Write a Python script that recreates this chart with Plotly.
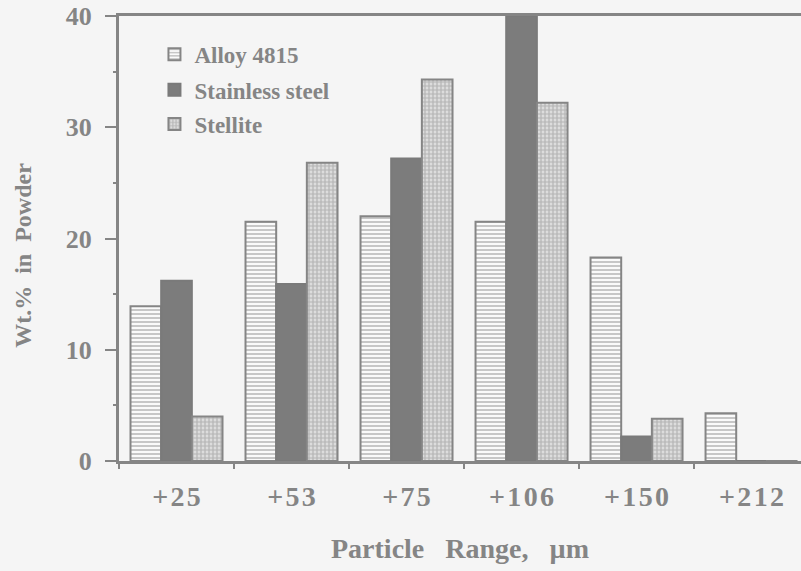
import plotly.graph_objects as go

# Particle size classes (lower sieve bound, µm)
categories = ["+25", "+53", "+75", "+106", "+150", "+212"]

# Weight percent retained in each size class
alloy_4815 = [13.9, 21.5, 22.0, 21.5, 18.3, 4.3]
stainless_steel = [16.2, 15.9, 27.2, 40.0, 2.2, 0.0]
stellite = [4.0, 26.8, 34.3, 32.2, 3.8, 0.0]

y_ticks = [0, 10, 20, 30, 40]

BG = "#f5f5f5"
INK = "#858585"
LINE = "#858585"
SERIF = "Liberation Serif"

# slightly letter-spaced tick text
HAIR = "\u200a"
tick_text = [HAIR.join(c) for c in categories]

fig = go.Figure()

fig.add_trace(go.Bar(
    name="Alloy 4815", x=categories, y=alloy_4815, legend="legend",
    marker=dict(color=BG, line=dict(color=LINE, width=2),
                pattern=dict(shape="-", fgcolor="#8a8a8a", bgcolor="#fafafa",
                             size=4, solidity=0.45)),
))
fig.add_trace(go.Bar(
    name="Stainless steel", x=categories, y=stainless_steel, legend="legend2",
    marker=dict(color="#7c7c7c", line=dict(color="#7a7a7a", width=2)),
))
fig.add_trace(go.Bar(
    name="Stellite", x=categories, y=stellite, legend="legend3",
    marker=dict(color=BG, line=dict(color=LINE, width=2),
                pattern=dict(shape=".", fgcolor="#8f8f8f", bgcolor="#e8e8e8",
                             size=4, solidity=0.7)),
))

legend_common = dict(
    x=0.052, xanchor="left", yanchor="middle",
    bgcolor="rgba(0,0,0,0)", borderwidth=0,
    font=dict(family=SERIF, size=23, color=INK, weight="bold"),
)

fig.update_layout(
    width=801, height=571,
    margin=dict(l=119, r=0, t=16, b=110),
    paper_bgcolor=BG, plot_bgcolor=BG,
    barmode="group", bargap=0.2, bargroupgap=0,
    showlegend=True,
    legend=dict(y=0.914, **legend_common),
    legend2=dict(y=0.834, **legend_common),
    legend3=dict(y=0.757, **legend_common),
    xaxis=dict(
        type="category", range=[-0.5, 5.43],
        tickmode="array", tickvals=categories, ticktext=tick_text,
        tickson="boundaries", ticks="outside", ticklen=5, tickwidth=2,
        tickcolor=LINE, ticklabelstandoff=8,
        showline=True, linecolor=LINE, linewidth=3, mirror=True,
        showgrid=False, zeroline=False,
        tickfont=dict(family=SERIF, size=28, color=INK, weight="bold"),
        title=dict(text="Particle\u2002 Range,\u2002 \u00b5m", standoff=28,
                   font=dict(family=SERIF, size=28, color=INK, weight="bold")),
    ),
    yaxis=dict(
        range=[0, 40], tickmode="array", tickvals=y_ticks,
        ticks="outside", ticklen=11, tickwidth=2, tickcolor=LINE,
        ticklabelstandoff=8,
        minor=dict(ticks="outside", ticklen=3, dtick=5, tickwidth=2,
                   tickcolor=LINE, showgrid=False),
        showline=True, linecolor=LINE, linewidth=3,
        showgrid=False, zeroline=False,
        tickfont=dict(family=SERIF, size=26, color=INK, weight="bold"),
    ),
    annotations=[dict(
        text="Wt.%  in  Powder", textangle=-90,
        xref="paper", yref="paper", x=-0.141, y=0.463,
        xanchor="center", yanchor="middle", showarrow=False,
        font=dict(family=SERIF, size=24, color=INK, weight="bold"),
    )],
)

fig.write_html("out.html")
